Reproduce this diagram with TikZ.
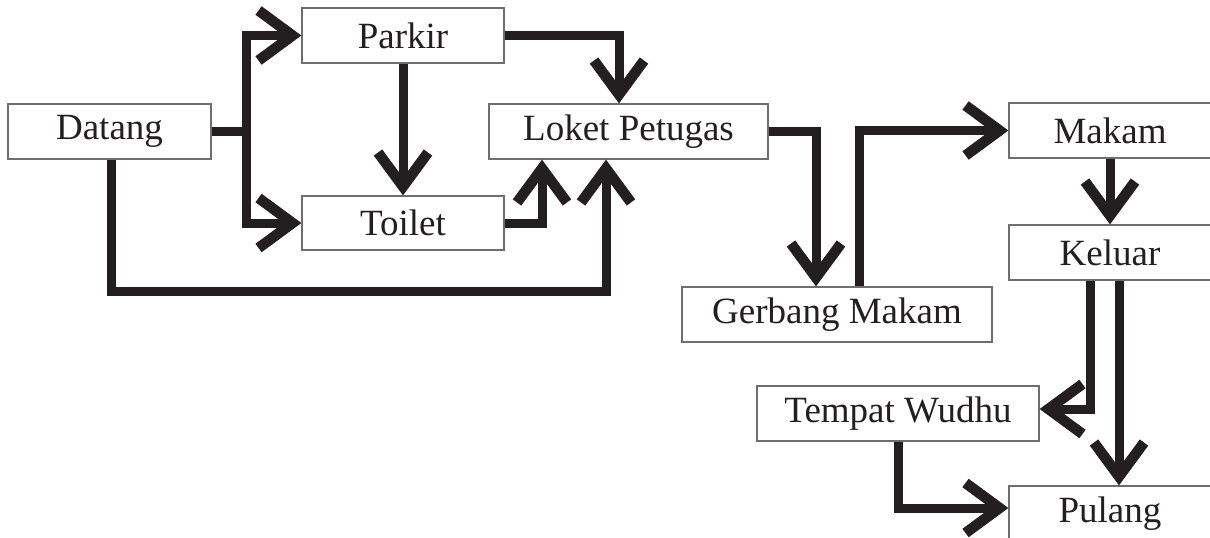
\documentclass[tikz,border=0pt]{standalone}
\usepackage{fontspec}
\setmainfont{Liberation Serif}
\usetikzlibrary{arrows.meta}
\definecolor{ink}{RGB}{35,31,32}
\definecolor{frame}{RGB}{110,110,110}
\begin{document}
\begin{tikzpicture}[x=1pt,y=-1pt,
  box/.style={draw=frame, line width=1.2pt, rectangle, inner sep=0pt,
    minimum height=55pt, font=\fontsize{37}{40}\selectfont, text=ink},
  flow/.style={draw=ink, line width=9pt, line join=miter,
    -{Straight Barb[length=34pt,width=50pt,line width=10.5pt]}}]
\useasboundingbox (0,0) rectangle (1210,538);
\fill[white] (0,0) rectangle (1210,538);
\clip (0,0) rectangle (1210,538);
% nodes
\node[box, minimum width=203pt] (datang) at (109.5,131.5) {Datang};
\node[box, minimum width=202pt] (parkir) at (403,35.5) {Parkir};
\node[box, minimum width=202pt, minimum height=54pt] (toilet) at (403,223) {Toilet};
\node[box, minimum width=279pt] (loket) at (628.5,131.5) {Loket Petugas};
\node[box, minimum width=310pt] (gerbang) at (837,314.5) {Gerbang Makam};
\node[box, minimum width=202pt] (makam) at (1110,130.5) {Makam};
\node[box, minimum width=202pt] (keluar) at (1110,252.5) {Keluar};
\node[box, minimum width=282pt] (tw) at (898,413.5) {Tempat Wudhu};
\node[box, minimum width=202pt] (pulang) at (1110,513.5) {Pulang};
% connectors
\coordinate (jx) at (246,0);
\draw[flow] (datang.east) -- (datang.east -| jx) |- (parkir.west);
\draw[flow] (datang.east -| jx) |- (toilet.west);
\draw[flow] (parkir.south) -- (toilet.north);
\draw[flow] (parkir.east) -| ([xshift=-9.5pt]loket.north);
\draw[flow] (toilet.east) -| ([xshift=-86.5pt]loket.south);
\draw[flow] ([xshift=1.5pt]datang.south) -- ++(0,132) -| ([xshift=-22.5pt]loket.south);
\draw[flow] (loket.east) -| ([xshift=-21pt]gerbang.north);
\draw[flow] ([xshift=22pt]gerbang.north) |- (makam.west);
\draw[flow] (makam.south) -- (keluar.north);
\draw[flow] ([xshift=-20pt]keluar.south) |- ([yshift=4.5pt]tw.east);
\draw[flow] ([xshift=9pt]keluar.south) -- ([xshift=9pt]pulang.north);
\draw[flow] (tw.south) |- ([yshift=5.5pt]pulang.west);
\end{tikzpicture}
\end{document}
